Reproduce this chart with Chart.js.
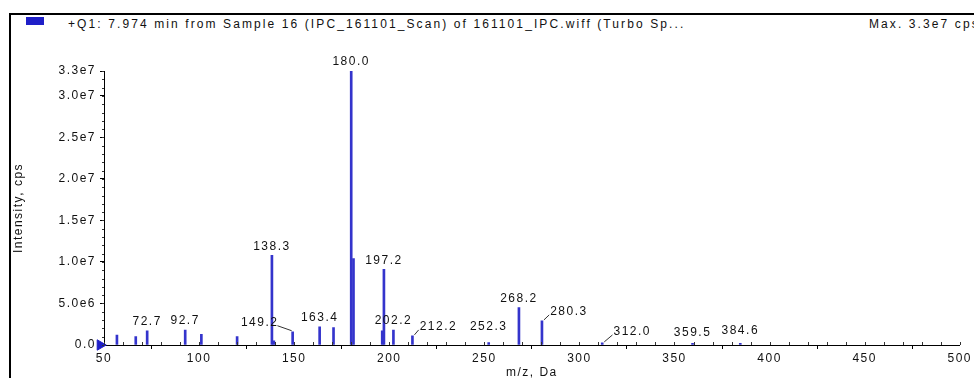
<!DOCTYPE html>
<html>
<head>
<meta charset="utf-8">
<script src="https://cdn.jsdelivr.net/npm/chart.js@4"></script>
<style>
  body { margin: 0; background: #fff; }
  #wrap { position: relative; width: 974px; height: 378px; overflow: hidden; font-family: "Liberation Sans", Arial, sans-serif; }
  #frame { position: absolute; left: 9px; top: 13px; width: 1000px; height: 400px; border-left: 2px solid #000; border-top: 2px solid #000; }
  #mark { position: absolute; left: 26px; top: 17px; width: 18px; height: 8px; background: #1f1fc8; }
  .hdr { position: absolute; top: 17px; font-size: 12px; letter-spacing: 2.1px; color: #111; white-space: nowrap; }
  canvas { position: absolute; left: 0; top: 0; }
</style>
</head>
<body>
<div id="wrap">
  <div id="frame"></div>
  <div id="mark"></div>
  <div class="hdr" style="left:68px">+Q1: 7.974 min from Sample 16 (IPC_161101_Scan) of 161101_IPC.wiff (Turbo Sp...</div>
  <div class="hdr" style="left:869px">Max. 3.3e7 cps</div>
  <canvas id="spectrum" width="974" height="378"></canvas>
</div>
<script>
// sticks of the spectrum: m/z and intensity (cps)
const mz = [56.8, 66.7, 72.7, 92.7, 101.2, 120.0, 138.3, 139.3, 149.2, 163.4, 170.7, 180.0, 181.2,
  196.3, 197.2, 202.2, 212.2, 252.3, 268.2, 280.3, 312.0, 359.5, 384.6];
const intensity = [1.2e6, 1.0e6, 1.7e6, 1.8e6, 1.3e6, 1.0e6, 10.8e6, 0.5e6, 1.6e6, 2.2e6, 2.1e6, 33.0e6, 10.4e6,
  1.7e6, 9.1e6, 1.8e6, 1.1e6, 0.3e6, 4.5e6, 2.9e6, 0.25e6, 0.2e6, 0.2e6];

// peaks that get a m/z label
const labelledMz = [72.7, 92.7, 138.3, 149.2, 163.4, 180.0, 197.2, 202.2, 212.2, 252.3, 268.2, 280.3, 312.0, 359.5, 384.6];

const xTicks = [50, 100, 150, 200, 250, 300, 350, 400, 450, 500];
const yTicks = [0, 5e6, 1e7, 1.5e7, 2e7, 2.5e7, 3e7, 3.3e7];

// the little start marker at the origin
const markerMz = [48];

// label placement tweaks in pixels [dx, dy]
const labelShift = {
  "149.2": [-33, 0],
  "212.2": [26, 0],
  "252.3": [0, -7],
  "280.3": [27, 0],
  "312.0": [30, -2],
  "359.5": [0, -2],
  "384.6": [0, -4]
};

const BLUE = "#3434cc";
const FONT = "'Liberation Sans', Arial, sans-serif";
const SPACING = "1.5px";

// wide spaced text like the original software
const spacingPlugin = {
  id: "spacing",
  beforeUpdate(chart) { chart.ctx.letterSpacing = SPACING; },
  beforeLayout(chart) { chart.ctx.letterSpacing = SPACING; },
  beforeDraw(chart) { chart.ctx.letterSpacing = SPACING; }
};

// small minor ticks along both axes
const minorTicks = {
  id: "minorTicks",
  afterDraw(chart) {
    const { ctx, scales: { x, y } } = chart;
    ctx.save();
    ctx.strokeStyle = "#333";
    ctx.lineWidth = 1;
    ctx.beginPath();
    for (let v = 50; v <= 500; v += 10) {
      const px = Math.round(x.getPixelForValue(v)) + 0.5;
      ctx.moveTo(px, y.bottom - 3);
      ctx.lineTo(px, y.bottom);
    }
    for (let v = 0; v <= 33e6; v += 1e6) {
      const py = Math.round(y.getPixelForValue(v)) + 0.5;
      ctx.moveTo(x.left - 2, py);
      ctx.lineTo(x.left, py);
    }
    ctx.stroke();
    ctx.restore();
  }
};

// m/z labels over the peaks
const peakLabels = {
  id: "peakLabels",
  afterDatasetsDraw(chart) {
    const { ctx, scales: { x, y } } = chart;
    ctx.save();
    ctx.font = "12px " + FONT;
    ctx.fillStyle = "#111";
    ctx.strokeStyle = "#333";
    ctx.lineWidth = 1;
    ctx.textAlign = "center";
    ctx.textBaseline = "middle";
    labelledMz.forEach((m) => {
      const i = mz.indexOf(m);
      const text = m.toFixed(1);
      const [dx, dy] = labelShift[text] || [0, 0];
      const px = x.getPixelForValue(m);
      const top = y.getPixelForValue(intensity[i]);
      const lx = px + dx;
      const ly = top - 9 + dy;
      ctx.fillText(text, lx, ly);
      if (dx !== 0) {
        const w = ctx.measureText(text).width;
        const edge = dx > 0 ? lx - w / 2 - 1 : lx + w / 2 - 1;
        ctx.beginPath();
        ctx.moveTo(edge, ly + 3);
        ctx.lineTo(px + (dx > 0 ? 2 : -1), top - 1);
        ctx.stroke();
      }
    });
    ctx.restore();
  }
};

new Chart(document.getElementById("spectrum"), {
  type: "bar",
  data: {
    datasets: [
      {
        data: mz.map((m, i) => ({ x: m, y: intensity[i] })),
        backgroundColor: BLUE,
        barThickness: 2,
        grouped: false
      },
      {
        type: "scatter",
        data: markerMz.map((m) => ({ x: m, y: 0 })),
        pointStyle: "triangle",
        rotation: 90,
        radius: 6,
        backgroundColor: "#1f1fc8",
        borderColor: "#1f1fc8",
        clip: false
      }
    ]
  },
  options: {
    responsive: false,
    animation: false,
    layout: { padding: { top: 71, right: 9, left: 0, bottom: 0 } },
    plugins: { legend: { display: false }, tooltip: { enabled: false } },
    scales: {
      x: {
        type: "linear",
        min: 50,
        max: 500,
        offset: false,
        afterBuildTicks: (scale) => { scale.ticks = xTicks.map((v) => ({ value: v })); },
        afterFit: (scale) => { scale.height = 33; },
        grid: { drawOnChartArea: false, drawTicks: true, tickLength: 4, tickColor: "#000" },
        border: { color: "#000", width: 1 },
        ticks: { color: "#111", font: { family: FONT, size: 12 }, padding: 2, maxRotation: 0 },
        title: { display: true, text: "m/z, Da", color: "#111", font: { family: FONT, size: 12 }, padding: { top: 0, bottom: -2 } }
      },
      y: {
        min: 0,
        max: 3.3e7,
        afterBuildTicks: (scale) => { scale.ticks = yTicks.map((v) => ({ value: v })); },
        afterFit: (scale) => { scale.width = 104; },
        grid: { drawOnChartArea: false, drawTicks: true, tickLength: 4, tickColor: "#000" },
        border: { color: "#000", width: 1 },
        ticks: {
          color: "#111",
          font: { family: FONT, size: 12 },
          padding: 4,
          callback: (v) => (v === 0 ? "0.0" : v.toExponential(1).replace("+", ""))
        },
        title: { display: true, text: "Intensity, cps", color: "#111", font: { family: FONT, size: 12 }, padding: { top: 11, bottom: 0 } }
      }
    }
  },
  plugins: [spacingPlugin, minorTicks, peakLabels]
});
</script>
</body>
</html>
